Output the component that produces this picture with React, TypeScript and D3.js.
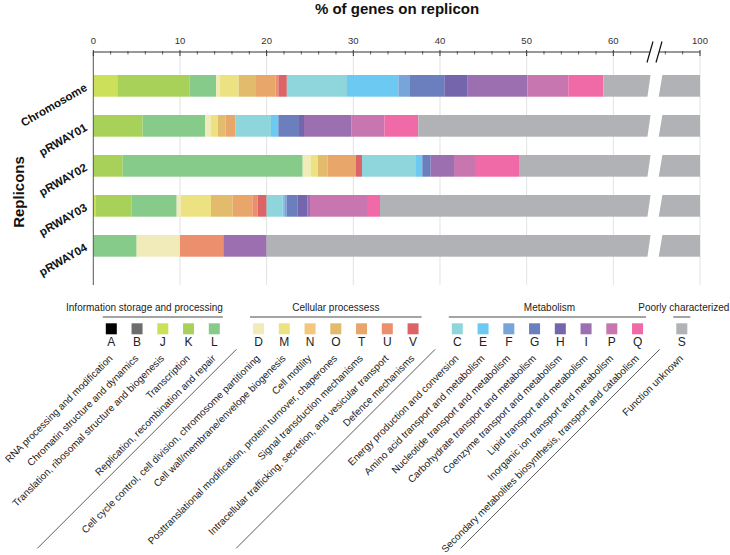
import React from "react";
import * as d3 from "d3";

// ---- data ----
const codes = ["A","B","J","K","L","D","M","N","O","T","U","V","C","E","F","G","H","I","P","Q","S"];
const descriptions = [
  "RNA processing and modification",
  "Chromatin structure and dynamics",
  "Translation, ribosomal structure and biogenesis",
  "Transcription",
  "Replication, recombination and repair",
  "Cell cycle control, cell division, chromosome partitioning",
  "Cell wall/membrane/envelope biogenesis",
  "Cell motility",
  "Posttranslational modification, protein turnover, chaperones",
  "Signal transduction mechanisms",
  "Intracellular trafficking, secretion, and vesicular transport",
  "Defence mechanisms",
  "Energy production and conversion",
  "Amino acid transport and metabolism",
  "Nucleotide transport and metabolism",
  "Carbohydrate transport and metabolism",
  "Coenzyme transport and metabolism",
  "Lipid transport and metabolism",
  "Inorganic ion transport and metabolism",
  "Secondary metabolites biosynthesis, transport and catabolism",
  "Function unknown",
];
const colors = [
  "#000000","#6d6d6d","#cde05a","#a8d15a","#87cb8a",
  "#f0ebb8","#ede281","#f4c67e","#e2bb6c","#e9a66b","#eb8f6c","#dc6466",
  "#8fd5dc","#6ccaf2","#77a4d9","#6b7ebd","#7565ad","#9c70b0","#c876b0","#ef6aa7",
  "#b1b2b5",
];
const groupNames = ["Information storage and processing","Cellular processess","Metabolism","Poorly characterized"];
const groupOf = [0,0,0,0,0,1,1,1,1,1,1,1,2,2,2,2,2,2,2,2,3];

const replicons = ["Chromosome","pRWAY01","pRWAY02","pRWAY03","pRWAY04"];
//                    A  B  J     K     L     D     M     N  O     T     U     V     C     E     F     G     H     I     P     Q     S
const chromosome = [0, 0, 2.77, 8.31, 3.08, 0.46, 2.15, 0, 2.0,  2.27, 0.31, 0.98, 6.94, 5.93, 1.34, 3.96, 2.7,  6.9,  4.7,  4.05, 41.15];
const pRWAY01    = [0, 0, 0,    5.69, 7.2,  0.69, 0.81, 0, 0.88, 1.15, 0,    0,    4.08, 0.85, 0,    2.38, 0.58, 5.5,  3.77, 3.92, 62.5];
const pRWAY02    = [0, 0, 0,    3.39, 20.77,0.96, 0.81, 0, 1.11, 3.23, 0,    0.73, 6.23, 0.73, 0,    0.97, 0,    2.69, 2.42, 5.08, 50.88];
const pRWAY03    = [0, 0, 0.31, 4.12, 5.19, 0.5,  3.46, 0, 2.5,  2.27, 0.62, 1.03, 1.85, 0.19, 0.27, 1.23, 1.19, 0.27, 6.58, 1.5,  66.92];
const pRWAY04    = [0, 0, 0,    0,    5,    5,    0,    0, 0,    0,    5,    0,    0,    0,    0,    0,    0,    5,    0,    0,    80];
const seriesValues = [chromosome, pRWAY01, pRWAY02, pRWAY03, pRWAY04];

const majorTicks = [0, 10, 20, 30, 40, 50, 60, 100];
const minorTicks = [2,4,6,8,12,14,16,18,22,24,26,28,32,34,36,38,42,44,46,48,52,54,56,58,62,96,98];

// ---- layout ----
const W = 730, H = 555;
const FONT = "'Liberation Sans', Arial, Helvetica, sans-serif";
const x0 = 93.3, unit = 8.667;
const x = d3.scaleLinear()
  .domain([0, 64.6, 95.4, 100])
  .range([x0, x0 + 64.6 * unit, 700 - 4.6 * unit, 700]);
const axisY = 52;
const plotBottom = 285;
const y = d3.scaleBand<string>().domain(replicons).range([65.85, 265.85]).paddingInner(0.4575).paddingOuter(0.22875);

const legendIdx = d3.scaleLinear().domain([0, 20]).range([111.3, 626.3]);
const legendX = (i: number) => legendIdx(i) + groupOf[i] * 18.5;

export default function App() {
  const stacks = seriesValues.map((vals) => {
    let acc = 0;
    return vals.map((v) => { const s = acc; acc += v; return [s, acc]; });
  });
  const bw = y.bandwidth();

  const groups = groupNames.map((name, g) => {
    const idx = codes.map((_, i) => i).filter((i) => groupOf[i] === g);
    const l = legendX(idx[0]) - 8.5;
    const r = legendX(idx[idx.length - 1]) + 8.5;
    return { name, l, r, g };
  });

  const separators = [1, 2, 3].map((g) => {
    const prevLast = groupOf.lastIndexOf(g - 1);
    const nextFirst = groupOf.indexOf(g);
    return (legendX(prevLast) + legendX(nextFirst)) / 2;
  });

  return (
    <div style={{ position: "absolute", left: 0, top: 0 }}>
      <svg width={W} height={H} style={{ display: "block", fontFamily: FONT }}>
        <rect width={W} height={H} fill="#fff" />
        {/* title */}
        <text x={397} y={13.5} textAnchor="middle" fontSize={15} fontWeight="bold" fill="#111">% of genes on replicon</text>

        {/* gridlines */}
        {majorTicks.filter((t) => t > 0).map((t) => (
          <line key={"g" + t} x1={x(t)} x2={x(t)} y1={axisY} y2={plotBottom} stroke="#e2e2e2" strokeWidth={1} />
        ))}

        {/* bars */}
        {replicons.map((rep, r) => (
          <g key={rep}>
            {stacks[r].map(([s, e], i) => e - s > 0 ? (
              <rect key={i} x={x(s)} y={y(rep)} width={x(e) - x(s)} height={bw} fill={colors[i]} />
            ) : null)}
            <polygon
              points={`650.7,${y(rep)! - 1} 662.5,${y(rep)! - 1} 658.6,${y(rep)! + bw + 1} 647.3,${y(rep)! + bw + 1}`}
              fill="#fff"
            />
          </g>
        ))}

        {/* left axis */}
        <line x1={x0} x2={x0} y1={axisY} y2={plotBottom} stroke="#555" strokeWidth={1} />

        {/* top axis */}
        <line x1={x0} x2={650} y1={axisY} y2={axisY} stroke="#333" strokeWidth={1} />
        <line x1={659} x2={700} y1={axisY} y2={axisY} stroke="#333" strokeWidth={1} />
        {majorTicks.map((t) => (
          <g key={"t" + t}>
            <line x1={x(t)} x2={x(t)} y1={axisY - 2} y2={axisY + 4} stroke="#333" strokeWidth={1} />
            <text x={x(t)} y={43.5} textAnchor="middle" fontSize={9.5} fill="#333">{t}</text>
          </g>
        ))}
        {minorTicks.map((t) => (
          <line key={"m" + t} x1={x(t)} x2={x(t)} y1={axisY - 1} y2={axisY + 2.5} stroke="#333" strokeWidth={0.8} />
        ))}
        <line x1={647} y1={62.5} x2={653} y2={41.5} stroke="#111" strokeWidth={1.2} />
        <line x1={656} y1={62.5} x2={662} y2={41.5} stroke="#111" strokeWidth={1.2} />

        {/* y labels */}
        {replicons.map((rep) => {
          const cy = y(rep)! + bw / 2;
          return (
            <text key={"yl" + rep} transform={`translate(88,${cy + 4}) rotate(-30)`} textAnchor="end"
              fontSize={11.5} fontWeight="bold" fill="#111">{rep}</text>
          );
        })}
        <text transform="translate(24,192) rotate(-90)" textAnchor="middle" fontSize={15} fontWeight="bold" fill="#111">Replicons</text>

        {/* legend group headers */}
        {groups.map(({ name, l, r, g }) => (
          <g key={name}>
            <line x1={l} x2={r} y1={317} y2={317} stroke="#333" strokeWidth={0.9} />
            <text x={g === 0 ? r : (l + r) / 2 + (g === 2 ? 2 : g === 3 ? 2 : 0)} y={310.5}
              textAnchor={g === 0 ? "end" : "middle"} fontSize={10} fill="#222">{name}</text>
          </g>
        ))}

        {/* legend swatches */}
        {codes.map((c, i) => (
          <g key={"lg" + c}>
            <rect x={legendX(i) - 5.5} y={323.3} width={11} height={11} fill={colors[i]} />
            <text x={legendX(i)} y={346} textAnchor="middle" fontSize={12} fill="#222">{c}</text>
            <text transform={`translate(${legendX(i) + 2},359) rotate(-45)`} textAnchor="end" fontSize={10} fill="#222">{descriptions[i]}</text>
          </g>
        ))}

        {/* group separators */}
        {separators.map((sx, k) => (
          <line key={"sep" + k} x1={sx} y1={349.3} x2={sx - 199} y2={548.3} stroke="#333" strokeWidth={0.8} />
        ))}
      </svg>
    </div>
  );
}
